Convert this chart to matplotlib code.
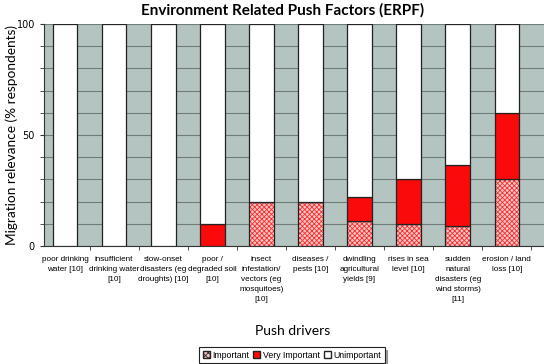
import numpy as np
import matplotlib
matplotlib.use('Agg')
import matplotlib.pyplot as plt
from matplotlib.patches import Patch

categories = ['poor drinking\nwater [10]', 'insufficient\ndrinking water\n[10]',
              'slow-onset\ndisasters (eg\ndroughts) [10]', 'poor /\ndegraded soil\n[10]',
              'insect\ninfestation/\nvectors (eg\nmosquitoes)\n[10]', 'diseases /\npests [10]',
              'dwindling\nagricultural\nyields [9]', 'rises in sea\nlevel [10]',
              'sudden\nnatural\ndisasters (eg\nwind storms)\n[11]', 'erosion / land\nloss [10]']
important = [0, 0, 0, 0, 20, 20, 11.1, 10, 9.1, 30]
very_important = [0, 0, 0, 10, 0, 0, 11.1, 20, 27.3, 30]
unimportant = [100 - a - b for a, b in zip(important, very_important)]

bg = '#b4c4c0'
red = '#fa0a0a'
pink = '#fbc4c4'
plt.rcParams['hatch.linewidth'] = 0.6

fig = plt.figure(figsize=(5.44, 3.64), dpi=100)
ax = fig.add_axes([44/544, 1 - 246/364, 1 - 44/544 + 0.02, 222/364])
ax.set_facecolor(bg)

x = np.arange(len(categories))
w = 0.5
imp = np.array(important)
vimp = np.array(very_important)
unimp = np.array(unimportant)

# hatched "important" part, then outline on top
ax.bar(x, imp, w, color=pink, hatch='xxxxxxx', edgecolor='#f23030', linewidth=0, zorder=3)
ax.bar(x, imp, w, fill=False, edgecolor='#222222', linewidth=0.9, zorder=4)
ax.bar(x, vimp, w, bottom=imp, color=red, edgecolor='#222222', linewidth=0.9, zorder=4)
ax.bar(x, unimp, w, bottom=imp + vimp, color='white', edgecolor='#222222', linewidth=0.9, zorder=4)

ax.set_ylim(0, 100)
ax.set_xlim(-0.43, 9.98)
ax.set_yticks([0, 50, 100])
ax.set_yticks(np.arange(0, 101, 10), minor=True)
ax.yaxis.grid(True, which='both', color='#6f7c79', linewidth=0.8, zorder=0)
ax.set_axisbelow(True)
ax.tick_params(axis='y', which='both', length=3, labelsize=7, color='#333333')
ax.set_xticks(x)
ax.set_xticklabels(categories, fontsize=5.9, family='Liberation Sans', va='top', linespacing=1.6)
ax.tick_params(axis='x', which='major', length=0, pad=7)
ax.set_xticks(np.arange(0.5, len(categories), 1), minor=True)
ax.tick_params(axis='x', which='minor', length=3, color='#333333')
for s in ['top', 'right']:
    ax.spines[s].set_visible(False)
ax.spines['left'].set_color('#333333')
ax.spines['bottom'].set_color('#333333')

ax.set_ylabel('Migration relevance (% respondents)', fontsize=9.8, family='Lato')
ax.yaxis.set_label_coords(-26/511, 0.5)
fig.text(283/544, 1 - 10/364, 'Environment Related Push Factors (ERPF)', ha='center', va='center',
         fontsize=11, fontweight='bold', family='Lato')
fig.text(293/544, 1 - 331/364, 'Push drivers', ha='center', va='center', fontsize=10, family='Lato')

handles = [Patch(facecolor=pink, edgecolor='#222222', hatch='xxxxxx', label='Important'),
           Patch(facecolor=red, edgecolor='#222222', label='Very Important'),
           Patch(facecolor='white', edgecolor='#222222', label='Unimportant')]
leg = fig.legend(handles=handles, loc='center', bbox_to_anchor=(292/544, 1 - 355/364), ncol=3,
                 frameon=True, fancybox=False, shadow=True, handlelength=0.8,
                 handleheight=0.8, handletextpad=0.3, columnspacing=0.5, borderpad=0.35,
                 prop={'family': 'Liberation Sans', 'size': 6.3})
leg.get_frame().set_edgecolor('#222222')
leg.get_frame().set_linewidth(0.8)

fig.savefig('out.png', dpi=100)
